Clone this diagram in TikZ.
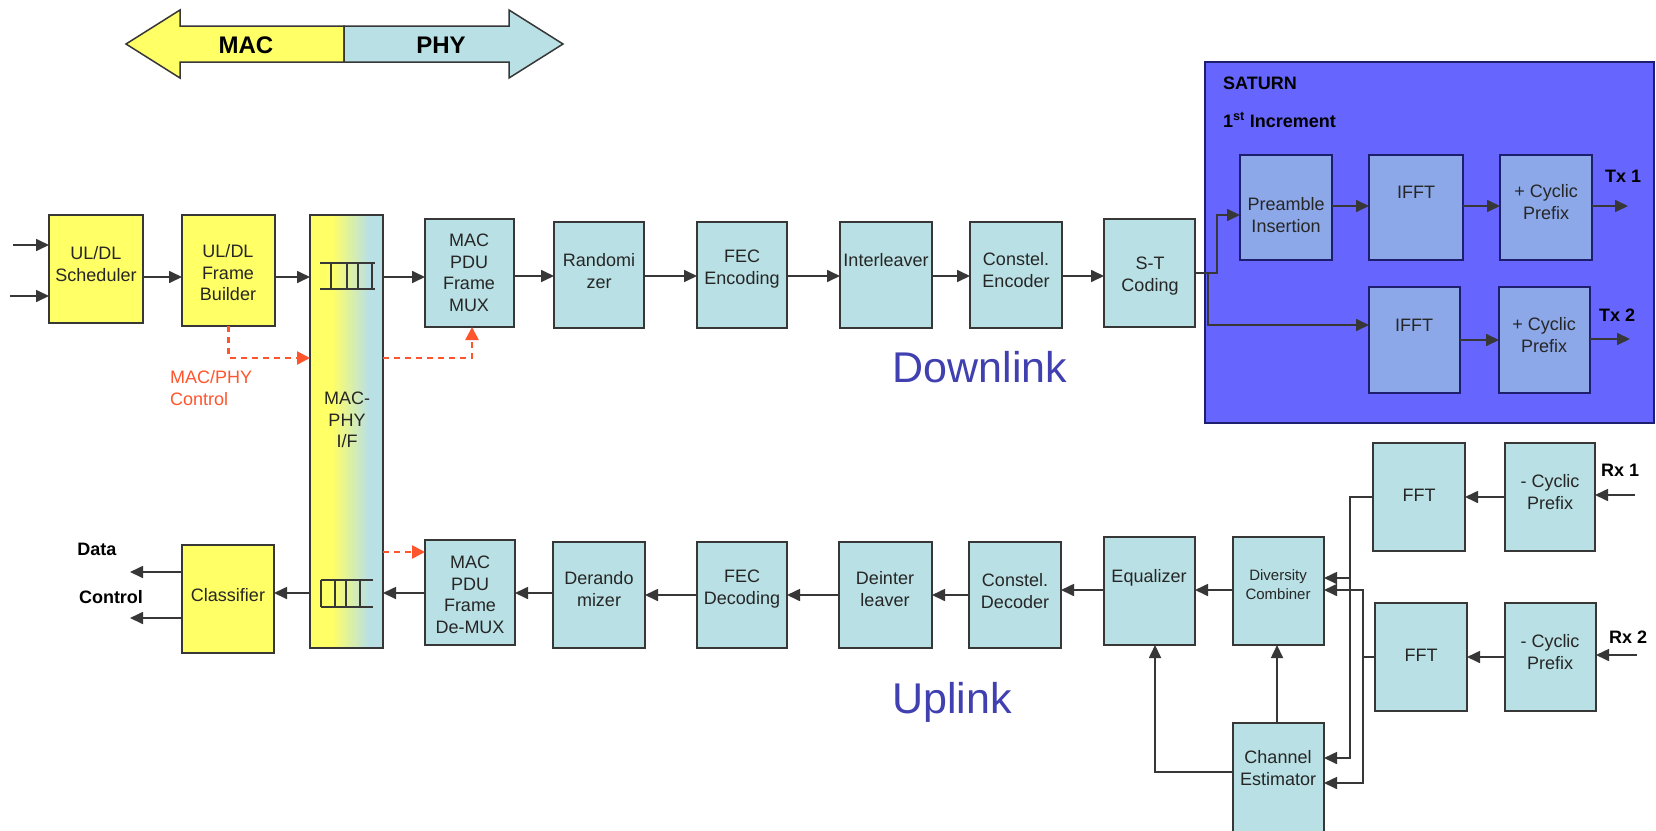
\documentclass[tikz,border=0pt]{standalone}
\usepackage{fontspec}
\setmainfont{Liberation Sans}
\usetikzlibrary{arrows.meta}
\definecolor{ylw}{RGB}{255,255,102}
\definecolor{tl}{RGB}{185,224,228}
\definecolor{sat}{RGB}{102,102,255}
\definecolor{satin}{RGB}{140,168,232}
\definecolor{redc}{RGB}{255,85,45}
\definecolor{edge}{RGB}{55,55,55}
\definecolor{navy}{RGB}{30,30,110}
\definecolor{lnk}{RGB}{64,64,176}
\pgfdeclarehorizontalshading{macphy}{100bp}{color(0bp)=(ylw); color(25bp)=(ylw); color(40bp)=(ylw); color(65bp)=(tl); color(100bp)=(tl)}
\newcommand\mkbox[6]{\node[#6, minimum width={(#4-#2)*1pt}, minimum height={(#5-#3)*1pt}] (#1) at ({(#2+#4)/2},{(#3+#5)/2}) {};}
\begin{document}
\begin{tikzpicture}[x=1pt,y=-1pt,
  bx/.style={draw=edge, line width=1.5pt, inner sep=0pt, outer sep=0pt, fill=tl},
  ybx/.style={bx, fill=ylw},
  sbx/.style={draw=navy, line width=1.5pt, inner sep=0pt, outer sep=0pt, fill=satin},
  txt/.style={font=\fontsize{18}{21.5}\selectfont, align=center, inner sep=0pt, text=black!85},
  stxt/.style={font=\fontsize{15}{19}\selectfont, align=center, inner sep=0pt, text=black!85},
  lbl/.style={font=\fontsize{18}{21}\selectfont\bfseries, inner sep=0pt},
  arr/.style={draw=edge, line width=1.7pt, -{Triangle[length=13pt,width=12pt]}},
  ln/.style={draw=edge, line width=1.7pt},
  ctl/.style={draw=redc, line width=2.5pt, dash pattern=on 6pt off 5pt, -{Triangle[length=13pt,width=13pt]}}
]
\useasboundingbox[fill=white] (0,0) rectangle (1656,830);

% ---- MAC / PHY double arrow
\draw[edge, line width=1.5pt, fill=ylw] (344,26) -- (180,26) -- (180,10) -- (126,44) -- (180,78) -- (180,62) -- (344,62) -- cycle;
\draw[edge, line width=1.5pt, fill=tl] (344,26) -- (509,26) -- (509,10) -- (563,44) -- (509,78) -- (509,62) -- (344,62) -- cycle;
\node[font=\fontsize{24}{28}\selectfont\bfseries, inner sep=0pt] (mact) at (246,45) {MAC};
\node[font=\fontsize{24}{28}\selectfont\bfseries, inner sep=0pt] (phyt) at (441,45) {PHY};

% ---- SATURN
\mkbox{saturn}{1205}{62}{1654}{423}{draw=navy, line width=2pt, fill=sat, inner sep=0pt, outer sep=0pt}
\node[lbl, anchor=west] (satt) at (1223,83) {SATURN};
\node[lbl, anchor=west] (inct) at (1223,120) {1\textsuperscript{st} Increment};

% ---- Downlink boxes
\mkbox{sched}{49}{215}{143}{323}{ybx}
\mkbox{fb}{182}{215}{275}{326}{ybx}
\mkbox{bar}{310}{215}{383}{648}{draw=edge, line width=1.5pt, inner sep=0pt, outer sep=0pt, shading=macphy}
\mkbox{mux}{425}{219}{514}{327}{bx}
\mkbox{rand}{554}{222}{644}{328}{bx}
\mkbox{fece}{697}{222}{787}{328}{bx}
\mkbox{intl}{840}{222}{932}{328}{bx}
\mkbox{cenc}{970}{222}{1062}{328}{bx}
\mkbox{stc}{1104}{219}{1195}{327}{bx}
\mkbox{pre}{1240}{155}{1332}{260}{sbx}
\mkbox{ifftA}{1369}{155}{1463}{260}{sbx}
\mkbox{cpA}{1500}{155}{1592}{260}{sbx}
\mkbox{ifftB}{1369}{287}{1460}{393}{sbx}
\mkbox{cpB}{1499}{287}{1590}{393}{sbx}

% ---- Uplink boxes
\mkbox{cls}{182}{545}{274}{653}{ybx}
\mkbox{demux}{425}{540}{515}{645}{bx}
\mkbox{derand}{553}{542}{645}{648}{bx}
\mkbox{fecd}{697}{542}{787}{648}{bx}
\mkbox{deint}{839}{542}{932}{648}{bx}
\mkbox{cdec}{969}{542}{1061}{648}{bx}
\mkbox{eq}{1104}{537}{1195}{645}{bx}
\mkbox{dc}{1233}{537}{1324}{645}{bx}
\mkbox{ce}{1233}{723}{1324}{836}{bx}
\mkbox{fftA}{1373}{443}{1465}{551}{bx}
\mkbox{cprA}{1505}{443}{1595}{551}{bx}
\mkbox{fftB}{1375}{603}{1467}{711}{bx}
\mkbox{cprB}{1505}{603}{1596}{711}{bx}

% ---- box texts
\node[txt] (t-sched) at (96,264) {UL/DL\\Scheduler};
\node[txt] (t-fb) at (228,273) {UL/DL\\Frame\\Builder};
\node[txt] (t-bar) at (347,420) {MAC-\\PHY\\I/F};
\node[txt] (t-mux) at (469,273) {MAC\\PDU\\Frame\\MUX};
\node[txt] (t-rand) at (599,271) {Randomi\\zer};
\node[txt] (t-fece) at (742,269) {FEC\\Encoding};
\node[txt] (t-intl) at (886,260) {Interleaver};
\node[txt] (t-cenc) at (1016,270) {Constel.\\Encoder};
\node[txt] (t-stc) at (1150,276) {S-T\\Coding};
\node[txt] (t-pre) at (1286,215) {Preamble\\Insertion};
\node[txt] (t-ifftA) at (1416,192) {IFFT};
\node[txt] (t-cpA) at (1546,202) {+ Cyclic\\Prefix};
\node[txt] (t-ifftB) at (1414,325) {IFFT};
\node[txt] (t-cpB) at (1544,335) {+ Cyclic\\Prefix};
\node[txt] (t-cls) at (228,595) {Classifier};
\node[txt] (t-demux) at (470,595) {MAC\\PDU\\Frame\\De-MUX};
\node[txt] (t-derand) at (599,589) {Derando\\mizer};
\node[txt] (t-fecd) at (742,589) {FEC\\Decoding};
\node[txt] (t-deint) at (885,589) {Deinter\\leaver};
\node[txt] (t-cdec) at (1015,591) {Constel.\\Decoder};
\node[txt] (t-eq) at (1149,578) {Equalizer};
\node[stxt] (t-dc) at (1278,585) {Diversity\\Combiner};
\node[txt] (t-ce) at (1278,768) {Channel\\Estimator};
\node[txt] (t-fftA) at (1419,495) {FFT};
\node[txt] (t-cprA) at (1550,492) {- Cyclic\\Prefix};
\node[txt] (t-fftB) at (1421,655) {FFT};
\node[txt] (t-cprB) at (1550,652) {- Cyclic\\Prefix};

% ---- queues
\draw[ln] (320,263) -- (375,263) (320,289) -- (375,289)
  (331,263) -- (331,289) (347,263) -- (347,289) (358,263) -- (358,289) (372,263) -- (372,289);
\draw[ln] (321,580) -- (373,580) (321,607) -- (373,607)
  (321,580) -- (321,607) (335,580) -- (335,607) (346,580) -- (346,607) (360,580) -- (360,607);

% ---- labels
\node[lbl] (tx1) at (1623,176) {Tx 1};
\node[lbl] (tx2) at (1617,315) {Tx 2};
\node[lbl] (rx1) at (1620,470) {Rx 1};
\node[lbl] (rx2) at (1628,637) {Rx 2};
\node[lbl] (datal) at (97,549) {Data};
\node[lbl] (ctrll) at (111,597) {Control};
\node[font=\fontsize{18}{22}\selectfont, text=redc, align=left, anchor=west, inner sep=0pt] (mpc) at (170,388) {MAC/PHY\\Control};
\node[font=\fontsize{43}{50}\selectfont, text=lnk, inner sep=0pt] (dl) at (980,367) {Downlink};
\node[font=\fontsize{43}{50}\selectfont, text=lnk, inner sep=0pt] (ul) at (952,702) {Uplink};

% ---- free ends
\coordinate (in1) at (13,245);
\coordinate (in2) at (10,296);
\coordinate (tx1e) at (1628,206);
\coordinate (tx2e) at (1630,339);
\coordinate (rx1s) at (1635,495);
\coordinate (rx2s) at (1637,655);
\coordinate (datae) at (130,572);
\coordinate (ctrle) at (130,618);

% ---- downlink connectors
\draw[arr] (in1) -- (in1 -| sched.west);
\draw[arr] (in2) -- (in2 -| sched.west);
\draw[arr] (sched.east |- 0,277) -- (fb.west |- 0,277);
\draw[arr] (fb.east |- 0,277) -- (bar.west |- 0,277);
\draw[arr] (bar.east |- 0,277) -- (mux.west |- 0,277);
\draw[arr] (mux.east |- 0,276) -- (rand.west |- 0,276);
\draw[arr] (rand.east |- 0,276) -- (fece.west |- 0,276);
\draw[arr] (fece.east |- 0,276) -- (intl.west |- 0,276);
\draw[arr] (intl.east |- 0,276) -- (cenc.west |- 0,276);
\draw[arr] (cenc.east |- 0,276) -- (stc.west |- 0,276);
\draw[arr] (stc.east |- 0,273) -- (1217,273) |- (pre.west |- 0,215);
\draw[arr] (stc.east |- 0,273) -- (1208,273) |- (ifftB.west |- 0,325);
\draw[arr] (pre.east |- 0,206) -- (ifftA.west |- 0,206);
\draw[arr] (ifftA.east |- 0,206) -- (cpA.west |- 0,206);
\draw[arr] (cpA.east |- tx1e) -- (tx1e);
\draw[arr] (ifftB.east |- 0,340) -- (cpB.west |- 0,340);
\draw[arr] (cpB.east |- tx2e) -- (tx2e);

% ---- control (red dashed)
\draw[ctl] (fb.south) |- (bar.west |- 0,358);
\draw[ctl] (bar.east |- 0,358) -| (472,0 |- mux.south);
\draw[ctl] (bar.east |- 0,552) -- (demux.west |- 0,552);

% ---- uplink connectors
\draw[arr] (rx1s) -- (rx1s -| cprA.east);
\draw[arr] (rx2s) -- (rx2s -| cprB.east);
\draw[arr] (cprA.west |- 0,497) -- (fftA.east |- 0,497);
\draw[arr] (cprB.west |- 0,657) -- (fftB.east |- 0,657);
\draw[arr] (fftA.west |- 0,497) -- (1350,497) |- (ce.east |- 0,758);
\draw[arr] (1350,578) -- (dc.east |- 0,578);
\draw[ln] (fftB.west |- 0,657) -- (1363,657);
\draw[arr] (1363,657) |- (dc.east |- 0,590);
\draw[arr] (1363,657) |- (ce.east |- 0,783);
\draw[arr] (ce.north -| 1277,0) -- (dc.south -| 1277,0);
\draw[arr] (ce.west |- 0,772) -| (1155,0 |- eq.south);
\draw[arr] (dc.west |- 0,590) -- (eq.east |- 0,590);
\draw[arr] (eq.west |- 0,590) -- (cdec.east |- 0,590);
\draw[arr] (cdec.west |- 0,595) -- (deint.east |- 0,595);
\draw[arr] (deint.west |- 0,595) -- (fecd.east |- 0,595);
\draw[arr] (fecd.west |- 0,595) -- (derand.east |- 0,595);
\draw[arr] (derand.west |- 0,593) -- (demux.east |- 0,593);
\draw[arr] (demux.west |- 0,593) -- (bar.east |- 0,593);
\draw[arr] (bar.west |- 0,593) -- (cls.east |- 0,593);
\draw[arr] (cls.west |- datae) -- (datae);
\draw[arr] (cls.west |- ctrle) -- (ctrle);
\end{tikzpicture}
\end{document}
